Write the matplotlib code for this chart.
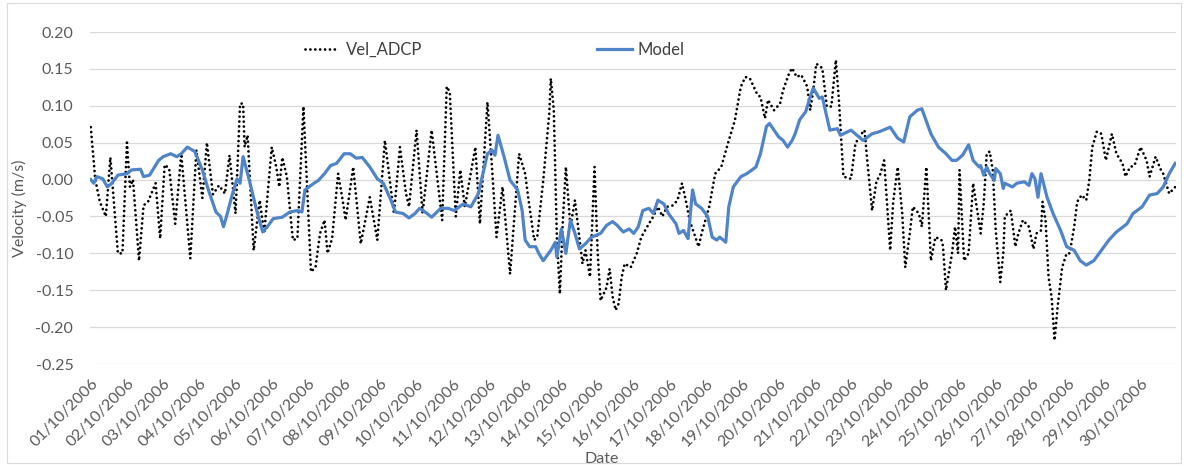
import matplotlib.pyplot as plt
from matplotlib.patches import Rectangle

# hourly index from 01/10/2006 00:00, velocities in m/s
adcp_hours = [0, 3, 6, 8, 10, 13, 18, 21, 24, 26, 28, 32, 35, 38, 43, 46, 49, 52, 56, 60,
              66, 70, 74, 77, 81, 85, 89, 92, 96, 99, 101, 102, 104, 108, 112, 115, 120, 123, 125, 127,
              130, 134, 137, 141, 146, 149, 152, 155, 157, 160, 164, 167, 169, 174, 179, 185, 190, 195, 201, 205,
              209, 211, 216, 220, 226, 233, 236, 238, 242, 245, 248, 255, 258, 263, 266, 269, 273, 278, 284, 288,
              290, 294, 296, 300, 304, 305, 307, 309, 311, 313, 315, 318, 321, 326, 328, 331, 334, 336, 338, 342,
              344, 346, 348, 350, 352, 354, 358, 362, 365, 370, 373, 376, 379, 382, 386, 389, 392, 395, 397, 403,
              405, 410, 414, 418, 423, 427, 431, 434, 437, 442, 444, 447, 449, 453, 457, 459, 463, 465, 468, 471,
              475, 477, 479, 481, 485, 488, 491, 494, 496, 499, 504, 507, 511, 513, 515, 518, 521, 523, 526, 530,
              532, 535, 538, 540, 543, 545, 549, 551, 554, 557, 560, 564, 565, 567, 571, 573, 575, 576, 579, 582,
              585, 590, 592, 594, 596, 598, 600, 603, 605, 606, 610, 613, 615, 618, 622, 625, 627, 630, 631, 633,
              635, 637, 639, 641, 644, 647, 649, 652, 654, 657, 660, 662, 664, 667, 670, 673, 677, 680, 684, 686,
              689, 692, 696, 700, 702, 706, 709, 711, 715, 719]
adcp_vel = [0.071, 0.0, -0.03, -0.04, -0.05, 0.03, -0.10, -0.10, 0.05, -0.01, 0.0, -0.11, -0.035, -0.03, -0.005, -0.08, 0.02, 0.015, -0.06, 0.035,
            -0.107, 0.04, -0.025, 0.05, -0.02, -0.008, -0.019, 0.033, -0.046, 0.103, 0.103, 0.044, 0.06, -0.096, -0.028, -0.073, 0.044, 0.017, -0.01, 0.03,
            0.004, -0.082, -0.08, 0.099, -0.125, -0.119, -0.073, -0.055, -0.10, -0.08, 0.008, -0.028, -0.055, 0.017, -0.087, -0.024, -0.082, 0.053, -0.046, 0.044,
            -0.019, -0.037, 0.067, -0.046, 0.067, -0.055, 0.126, 0.119, -0.05, 0.013, -0.037, 0.044, -0.06, 0.105, 0.017, -0.078, -0.01, -0.128, 0.035, 0.008,
            -0.024, -0.082, -0.078, -0.001, 0.09, 0.137, 0.094, -0.078, -0.155, -0.055, 0.017, -0.064, -0.028, -0.114, -0.096, -0.132, 0.017, -0.096, -0.164, -0.146,
            -0.121, -0.159, -0.177, -0.168, -0.132, -0.114, -0.119, -0.10, -0.078, -0.06, -0.05, -0.037, -0.05, -0.037, -0.035, -0.028, -0.005, -0.033, -0.055, -0.091,
            -0.073, -0.037, 0.008, 0.017, 0.053, 0.08, 0.126, 0.139, 0.137, 0.115, 0.112, 0.083, 0.108, 0.094, 0.103, 0.121, 0.144, 0.151, 0.139, 0.142,
            0.126, 0.094, 0.121, 0.157, 0.151, 0.099, 0.099, 0.162, 0.108, 0.004, 0.001, 0.049, 0.062, 0.067, 0.022, -0.042, -0.001, 0.004, 0.026, -0.096,
            -0.03, 0.017, -0.046, -0.119, -0.073, -0.037, -0.046, -0.064, 0.017, -0.11, -0.078, -0.082, -0.09, -0.15, -0.10, -0.064, -0.10, 0.013, -0.11, -0.10,
            -0.005, -0.073, -0.033, 0.035, 0.038, 0.013, -0.069, -0.139, -0.10, -0.05, -0.042, -0.091, -0.073, -0.055, -0.064, -0.094, -0.073, -0.069, -0.03, -0.055,
            -0.132, -0.159, -0.218, -0.173, -0.119, -0.10, -0.10, -0.064, -0.03, -0.021, -0.028, -0.001, 0.044, 0.065, 0.062, 0.026, 0.062, 0.035, 0.022, 0.004,
            0.017, 0.019, 0.044, 0.026, 0.004, 0.031, 0.015, 0.008, -0.019, -0.01]

model_hours = [0, 2, 4, 8, 11, 14, 18, 24, 27, 33, 35, 39, 45, 48, 53, 57, 60, 64, 69, 74,
               78, 83, 86, 88, 90, 94, 97, 99, 101, 105, 110, 114, 117, 121, 127, 132, 137, 140, 142, 148,
               151, 155, 159, 163, 168, 172, 176, 180, 185, 190, 194, 199, 202, 207, 211, 215, 218, 223, 226, 232,
               237, 241, 247, 252, 257, 263, 266, 268, 270, 274, 278, 283, 286, 288, 291, 295, 297, 300, 305, 308,
               309, 312, 315, 318, 321, 324, 328, 332, 338, 342, 346, 349, 353, 357, 360, 363, 366, 370, 373, 376,
               380, 383, 388, 390, 393, 396, 399, 401, 405, 409, 412, 415, 417, 421, 423, 426, 431, 435, 441, 444,
               448, 450, 453, 456, 459, 462, 465, 467, 470, 474, 477, 479, 483, 485, 487, 490, 495, 497, 504, 508,
               512, 518, 523, 530, 535, 539, 543, 548, 551, 557, 562, 567, 571, 574, 578, 582, 585, 589, 590, 592,
               594, 596, 599, 600, 603, 605, 606, 611, 614, 619, 622, 624, 626, 628, 630, 634, 638, 643, 647, 652,
               656, 660, 665, 670, 675, 680, 687, 691, 697, 702, 707, 711, 715, 719]
model_vel = [0.0, -0.005, 0.004, 0.001, -0.01, -0.005, 0.006, 0.008, 0.013, 0.014, 0.004, 0.006, 0.026, 0.031, 0.035, 0.031, 0.035, 0.044, 0.038, 0.013,
             -0.014, -0.044, -0.05, -0.064, -0.05, -0.019, 0.001, -0.005, 0.031, 0.0, -0.042, -0.071, -0.064, -0.053, -0.051, -0.044, -0.042, -0.044, -0.014, -0.005,
             -0.001, 0.008, 0.019, 0.022, 0.035, 0.035, 0.029, 0.03, 0.017, 0.001, -0.005, -0.028, -0.044, -0.046, -0.052, -0.046, -0.039, -0.046, -0.051, -0.039,
             -0.039, -0.042, -0.033, -0.037, -0.019, 0.035, 0.04, 0.033, 0.06, 0.031, -0.001, -0.014, -0.042, -0.082, -0.091, -0.091, -0.10, -0.11, -0.096, -0.085,
             -0.105, -0.067, -0.10, -0.055, -0.073, -0.094, -0.087, -0.078, -0.073, -0.062, -0.057, -0.062, -0.071, -0.067, -0.073, -0.064, -0.042, -0.039, -0.046, -0.028,
             -0.033, -0.046, -0.06, -0.073, -0.069, -0.08, -0.014, -0.033, -0.039, -0.05, -0.078, -0.082, -0.078, -0.085, -0.037, -0.01, 0.004, 0.008, 0.017, 0.035,
             0.072, 0.076, 0.067, 0.058, 0.053, 0.044, 0.053, 0.062, 0.081, 0.092, 0.112, 0.124, 0.11, 0.112, 0.094, 0.067, 0.069, 0.06, 0.067, 0.06,
             0.053, 0.062, 0.065, 0.071, 0.056, 0.051, 0.085, 0.094, 0.096, 0.062, 0.044, 0.035, 0.026, 0.026, 0.033, 0.047, 0.026, 0.017, 0.019, 0.006,
             0.017, 0.008, -0.001, 0.015, 0.008, -0.012, -0.005, -0.01, -0.005, -0.003, -0.008, 0.008, 0.001, -0.024, 0.008, -0.024, -0.046, -0.069, -0.091, -0.096,
             -0.11, -0.116, -0.11, -0.096, -0.082, -0.071, -0.06, -0.046, -0.037, -0.021, -0.019, -0.01, 0.008, 0.022]

day_ticks = list(range(0, 720, 24))
day_labels = ['%02d/10/2006' % d for d in range(1, 31)]
vel_ticks = [-0.25, -0.20, -0.15, -0.10, -0.05, 0.0, 0.05, 0.10, 0.15, 0.20]

plt.rcParams['font.family'] = ['Lato', 'DejaVu Sans']
txt = '#595959'

fig = plt.figure(figsize=(11.84, 4.65), dpi=100)
ax = fig.add_axes([90 / 1184, 1 - 364 / 465, 1086 / 1184, 332 / 465])

l1, = ax.plot(adcp_hours, adcp_vel, color='black', lw=2.0,
              linestyle=(0, (0.01, 1.75)), dash_capstyle='round', label='Vel_ADCP')
l2, = ax.plot(model_hours, model_vel, color='#4f84c9', lw=2.3, label='Model')

ax.set_xlim(-0.5, 719.5)
ax.set_ylim(-0.25, 0.20)
ax.set_yticks(vel_ticks)
ax.set_yticklabels(['%.2f' % v for v in vel_ticks])
ax.set_xticks(day_ticks)
ax.set_xticklabels(day_labels, rotation=45, ha='right', va='top', rotation_mode='anchor')
ax.tick_params(axis='both', length=0, labelsize=11.5, labelcolor=txt)
ax.tick_params(axis='x', pad=9)
ax.tick_params(axis='y', pad=12)

for s in ax.spines.values():
    s.set_visible(False)
ax.grid(axis='y', color='#d9d9d9', lw=0.9)
ax.set_axisbelow(True)

ax.set_ylabel('Velocity (m/s)', fontsize=11.5, color=txt)
ax.yaxis.set_label_coords(-0.058, 0.47)
ax.set_xlabel('Date', fontsize=11.5, color=txt)
ax.xaxis.set_label_coords(0.471, -0.265)

# two separate legend entries spread across the top
fig.legend(handles=[l1], loc='center left', bbox_to_anchor=(305 / 1184, 1 - 50 / 465),
           frameon=False, fontsize=12, handlelength=1.9, handletextpad=0.55,
           borderpad=0, borderaxespad=0, labelcolor='#404040')
fig.legend(handles=[l2], loc='center left', bbox_to_anchor=(597 / 1184, 1 - 50 / 465),
           frameon=False, fontsize=12, handlelength=2.1, handletextpad=0.3,
           borderpad=0, borderaxespad=0, labelcolor='#404040')

fig.patches.append(Rectangle((7 / 1184, 2 / 465), 1174 / 1184, 460 / 465, transform=fig.transFigure,
                             fill=False, edgecolor='#d9d9d9', lw=0.8))

fig.savefig('out.png', dpi=100)
